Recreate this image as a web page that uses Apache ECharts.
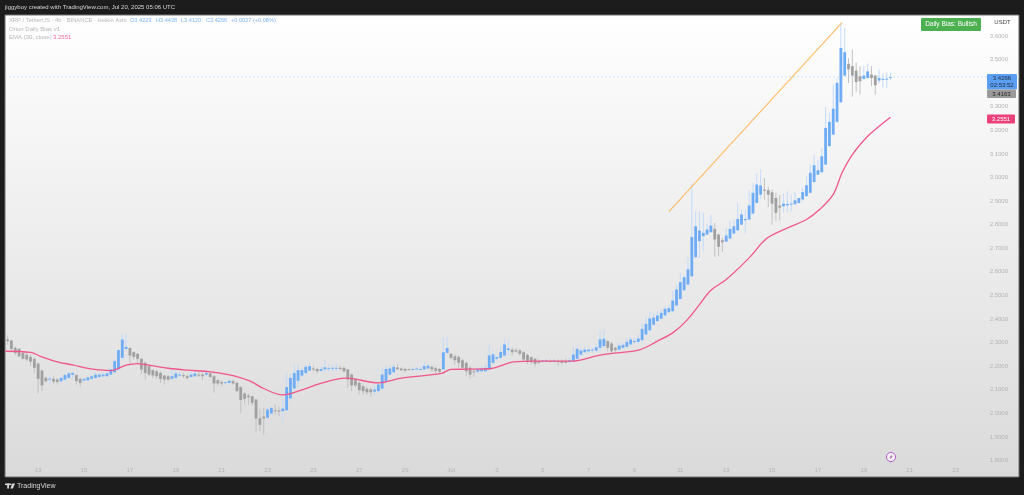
<!DOCTYPE html>
<html>
<head>
<meta charset="utf-8">
<title>XRP / TetherUS 4h</title>
<style>
html,body{margin:0;padding:0;background:#1c1c1c;}
#main{width:1024px;height:495px;}
</style>
<script src="https://cdn.jsdelivr.net/npm/echarts@6/dist/echarts.min.js"></script>
</head>
<body>
<div id="main"></div>
<script>
// heikin ashi bars, one entry per 4h bar
var opens = [
2.313,2.309,2.277,2.273,2.256,2.249,2.239,2.231,2.211,2.181,
2.150,2.143,2.146,2.143,2.136,2.143,2.150,2.163,2.162,2.146,
2.139,2.140,2.146,2.150,2.154,2.157,2.157,2.164,2.174,2.186,
2.235,2.273,2.277,2.259,2.252,2.231,2.214,2.200,2.183,2.178,
2.171,2.160,2.157,2.146,2.150,2.160,2.162,2.157,2.154,2.157,
2.164,2.164,2.164,2.169,2.157,2.140,2.133,2.128,2.129,2.136,
2.129,2.111,2.084,2.075,2.072,2.058,1.979,1.986,1.981,1.999,
2.013,2.012,2.009,2.013,2.063,2.105,2.138,2.160,2.171,2.181,
2.190,2.188,2.180,2.186,2.188,2.190,2.190,2.193,2.193,2.186,
2.164,2.143,2.129,2.115,2.104,2.101,2.092,2.094,2.105,2.136,
2.164,2.174,2.194,2.190,2.188,2.187,2.186,2.186,2.186,2.186,
2.190,2.197,2.191,2.188,2.186,2.256,2.252,2.242,2.239,2.225,
2.214,2.193,2.178,2.176,2.178,2.178,2.186,2.214,2.231,2.235,
2.245,2.268,2.270,2.268,2.266,2.259,2.248,2.238,2.231,2.222,
2.219,2.221,2.222,2.221,2.222,2.221,2.222,2.217,2.221,2.231,
2.249,2.259,2.263,2.266,2.266,2.278,2.285,2.306,2.296,2.278,
2.270,2.278,2.282,2.292,2.302,2.303,2.310,2.334,2.352,2.376,
2.391,2.401,2.415,2.429,2.433,2.457,2.485,2.522,2.546,2.581,
2.662,2.730,2.751,2.758,2.768,2.782,2.758,2.734,2.728,2.741,
2.762,2.776,2.800,2.819,2.822,2.847,2.892,2.927,2.949,2.946,
2.937,2.913,2.881,2.878,2.882,2.885,2.887,2.892,2.907,2.921,
2.935,2.981,3.012,3.022,3.055,3.133,3.182,3.236,3.319,3.432,
3.482,3.472,3.453,3.429,3.418,3.422,3.436,3.432,3.411,3.415,
3.417,3.4223
];
var closes = [
2.306,2.273,2.256,2.242,2.231,2.228,2.219,2.193,2.146,2.118,
2.136,2.147,2.135,2.133,2.150,2.162,2.169,2.171,2.136,2.129,
2.146,2.152,2.157,2.164,2.164,2.164,2.169,2.186,2.221,2.268,
2.313,2.282,2.245,2.239,2.231,2.186,2.171,2.164,2.160,2.157,
2.146,2.143,2.143,2.157,2.169,2.164,2.157,2.149,2.164,2.169,
2.160,2.157,2.171,2.154,2.126,2.126,2.126,2.132,2.138,2.126,
2.094,2.056,2.061,2.068,2.044,1.978,1.951,1.978,2.016,2.023,
2.009,2.007,2.020,2.111,2.150,2.171,2.183,2.183,2.197,2.200,
2.186,2.178,2.188,2.195,2.191,2.193,2.193,2.188,2.178,2.143,
2.118,2.118,2.098,2.094,2.089,2.089,2.101,2.122,2.164,2.188,
2.190,2.197,2.187,2.183,2.181,2.183,2.188,2.190,2.188,2.200,
2.202,2.186,2.180,2.176,2.259,2.277,2.235,2.225,2.214,2.193,
2.178,2.164,2.174,2.188,2.190,2.193,2.245,2.250,2.238,2.260,
2.292,2.275,2.259,2.262,2.252,2.228,2.221,2.217,2.210,2.214,
2.224,2.225,2.219,2.224,2.217,2.214,2.214,2.225,2.249,2.273,
2.266,2.270,2.270,2.270,2.280,2.313,2.316,2.278,2.263,2.268,
2.287,2.290,2.303,2.313,2.307,2.317,2.358,2.379,2.402,2.406,
2.415,2.426,2.443,2.446,2.478,2.525,2.556,2.577,2.610,2.748,
2.793,2.775,2.765,2.779,2.796,2.737,2.706,2.725,2.754,2.782,
2.793,2.824,2.843,2.824,2.881,2.935,2.970,2.966,2.944,2.927,
2.889,2.850,2.872,2.889,2.888,2.889,2.903,2.913,2.938,2.967,
3.020,3.052,3.031,3.090,3.210,3.236,3.292,3.401,3.549,3.531,
3.458,3.432,3.405,3.408,3.432,3.450,3.422,3.391,3.422,3.418,
3.419,3.4266
];
var lows = [
2.292,2.263,2.245,2.235,2.228,2.221,2.202,2.171,2.084,2.094,
2.129,2.126,2.122,2.122,2.129,2.136,2.146,2.146,2.122,2.111,
2.135,2.137,2.143,2.146,2.150,2.154,2.154,2.160,2.171,2.183,
2.228,2.270,2.207,2.228,2.207,2.164,2.143,2.157,2.150,2.146,
2.129,2.122,2.136,2.143,2.146,2.154,2.150,2.143,2.150,2.154,
2.154,2.140,2.157,2.150,2.087,2.115,2.115,2.121,2.125,2.122,
2.089,2.002,2.037,2.037,2.033,1.924,1.924,1.910,1.978,1.995,
1.995,1.988,1.962,2.009,2.058,2.101,2.108,2.154,2.164,2.178,
2.174,2.169,2.174,2.174,2.174,2.178,2.178,2.183,2.171,2.108,
2.094,2.108,2.080,2.080,2.080,2.070,2.072,2.089,2.101,2.132,
2.160,2.171,2.183,2.178,2.174,2.180,2.181,2.181,2.181,2.183,
2.186,2.174,2.169,2.169,2.183,2.253,2.228,2.207,2.193,2.186,
2.157,2.146,2.154,2.171,2.174,2.174,2.183,2.210,2.225,2.231,
2.242,2.245,2.245,2.256,2.242,2.221,2.207,2.207,2.197,2.207,
2.214,2.217,2.214,2.214,2.202,2.208,2.211,2.214,2.217,2.228,
2.245,2.256,2.256,2.256,2.260,2.263,2.278,2.263,2.253,2.253,
2.263,2.270,2.278,2.287,2.296,2.299,2.306,2.331,2.348,2.372,
2.386,2.398,2.412,2.423,2.429,2.454,2.482,2.518,2.542,2.578,
2.659,2.659,2.687,2.755,2.765,2.663,2.666,2.683,2.725,2.737,
2.758,2.772,2.797,2.762,2.819,2.844,2.889,2.909,2.906,2.875,
2.800,2.817,2.819,2.853,2.853,2.857,2.881,2.889,2.899,2.918,
2.932,2.977,3.010,3.020,3.052,3.130,3.179,3.231,3.316,3.429,
3.401,3.342,3.361,3.352,3.415,3.418,3.387,3.352,3.401,3.380,
3.380,3.4120
];
var highs = [
2.330,2.313,2.284,2.277,2.263,2.256,2.249,2.235,2.214,2.186,
2.157,2.160,2.157,2.150,2.157,2.169,2.178,2.178,2.164,2.150,
2.150,2.157,2.164,2.174,2.171,2.174,2.186,2.188,2.228,2.273,
2.334,2.337,2.280,2.263,2.256,2.235,2.221,2.207,2.188,2.186,
2.178,2.164,2.164,2.183,2.186,2.178,2.171,2.164,2.178,2.178,
2.178,2.174,2.174,2.174,2.164,2.146,2.139,2.133,2.143,2.143,
2.133,2.115,2.089,2.084,2.075,2.061,2.019,2.023,2.023,2.030,
2.037,2.027,2.061,2.171,2.164,2.211,2.207,2.193,2.207,2.214,
2.200,2.193,2.197,2.228,2.207,2.207,2.211,2.200,2.197,2.188,
2.169,2.150,2.136,2.122,2.112,2.108,2.122,2.129,2.193,2.200,
2.200,2.207,2.207,2.195,2.193,2.190,2.195,2.197,2.195,2.218,
2.211,2.202,2.197,2.193,2.324,2.324,2.256,2.249,2.245,2.231,
2.221,2.200,2.186,2.195,2.200,2.207,2.292,2.268,2.245,2.282,
2.313,2.313,2.279,2.277,2.273,2.263,2.253,2.242,2.235,2.228,
2.228,2.232,2.228,2.231,2.228,2.228,2.231,2.235,2.284,2.287,
2.277,2.284,2.277,2.277,2.296,2.351,2.355,2.310,2.302,2.282,
2.299,2.299,2.320,2.323,2.320,2.334,2.386,2.412,2.429,2.426,
2.433,2.440,2.454,2.461,2.518,2.546,2.596,2.588,2.663,2.974,
2.857,2.857,2.850,2.805,2.843,2.807,2.762,2.744,2.786,2.814,
2.822,2.895,2.864,2.864,2.946,2.977,3.017,3.034,2.998,2.960,
2.949,2.935,2.927,2.932,2.942,2.927,2.937,2.913,2.956,3.005,
3.055,3.097,3.076,3.125,3.299,3.274,3.394,3.422,3.655,3.634,
3.507,3.542,3.486,3.472,3.474,3.483,3.472,3.436,3.458,3.441,
3.446,3.4438
];
// EMA(30) read at [bar index, price]
var emaPoints = [
[-0.5,2.263],[6,2.258],[9,2.239],[13,2.218],[17,2.205],[21,2.190],[24,2.184],[27,2.181],
[28.2,2.185],[31,2.204],[34,2.211],[36.5,2.205],[42,2.191],[47,2.183],[53,2.176],[59,2.160],
[63.5,2.136],[67,2.105],[72,2.078],[77,2.099],[81.5,2.125],[88.5,2.149],[97,2.129],[103,2.149],
[113.5,2.169],[116,2.186],[120.5,2.187],[126.5,2.190],[132.5,2.218],[138,2.221],[147.5,2.221],
[155,2.247],[159.5,2.256],[165.5,2.270],[170,2.306],[174,2.341],[177.5,2.391],[181,2.461],
[184,2.522],[188,2.567],[194,2.659],[198.5,2.740],[203.5,2.782],[209,2.822],[212.5,2.865],
[216,2.928],[218.3,3.020],[221,3.097],[225,3.175],[228,3.217],[231,3.2551]
];
var trendX = [173,218.3];
var trendY = [2.855,3.657];
var lastPrice = 3.4266;
var priceTicks = [1.8,1.9,2.0,2.1,2.2,2.3,2.4,2.5,2.6,2.7,2.8,2.9,3.0,3.1,3.2,3.3,3.5,3.6];
var dateTicks = [8,20,32,44,56,68,80,92,104,116,128,140,152,164,176,188,200,212,224,236,248];
var dateLabels = ['13','15','17','19','21','23','25','27','29','Jul','3','5','7','9','11','13','15','17','19','21','23'];

var xMin = -0.68, xMax = 264.6;
var font = '"Liberation Sans", sans-serif';

var barData = [];
for (var i = 0; i < opens.length; i++) {
	barData.push([i, opens[i], closes[i], lows[i], highs[i]]);
}

function renderBar(params, api) {
	var idx = api.value(0), o = api.value(1), c = api.value(2);
	var up = c >= o;
	var hi = api.coord([idx, api.value(4)]);
	var lo = api.coord([idx, api.value(3)]);
	var t = api.coord([idx, Math.max(o, c)]);
	var b = api.coord([idx, Math.min(o, c)]);
	var h = Math.max(b[1] - t[1], 1);
	return {
		type: 'group',
		children: [{
			type: 'rect',
			shape: {x: hi[0] - 0.5, y: hi[1], width: 1, height: lo[1] - hi[1]},
			style: {fill: up ? '#c2dbfa' : '#c2c2c2'}
		}, {
			type: 'rect',
			shape: {x: t[0] - 1.4, y: t[1], width: 2.8, height: h},
			style: {fill: up ? '#6eacf6' : '#a0a0a0'}
		}]
	};
}

function label(x, y, text, color, size, align) {
	return {
		type: 'text', x: x, y: y, z: 20,
		style: {text: text, fill: color, font: (size || 6) + 'px ' + font, textAlign: align || 'left', textVerticalAlign: 'middle'}
	};
}
function box(x, y, w, h, color) {
	return {type: 'rect', z: 19, shape: {x: x, y: y, width: w, height: h, r: 1}, style: {fill: color}};
}

var chart = echarts.init(document.getElementById('main'));
var option = {
	animation: false,
	backgroundColor: '#1c1c1c',
	grid: {
		show: true, left: 5, right: 5, top: 15, bottom: 18,
		borderColor: '#6e6e6e', borderWidth: 1,
		backgroundColor: new echarts.graphic.LinearGradient(0, 0, 0, 1, [
			{offset: 0, color: '#ffffff'},
			{offset: 1, color: '#dadada'}
		])
	},
	xAxis: {
		type: 'value', min: xMin, max: xMax,
		axisLine: {show: false}, axisTick: {show: false}, splitLine: {show: false},
		axisLabel: {
			inside: true, margin: 3.5, color: '#b4b4b4', fontSize: 6, fontFamily: font,
			customValues: dateTicks,
			formatter: function (v) { return dateLabels[dateTicks.indexOf(v)]; }
		}
	},
	yAxis: {
		type: 'value', position: 'right', min: 1.7298, max: 3.689,
		axisLine: {show: false}, axisTick: {show: false}, splitLine: {show: false},
		axisLabel: {
			inside: true, margin: 11, color: '#b4b4b4', fontSize: 6, fontFamily: font,
			customValues: priceTicks,
			formatter: function (v) { return v.toFixed(4); }
		}
	},
	series: [{
		type: 'line', silent: true, symbol: 'none', z: 1,
		data: [[xMin, lastPrice], [xMax, lastPrice]],
		lineStyle: {color: '#c4dff9', width: 0.8, type: [2, 2]}
	}, {
		type: 'custom', z: 2, renderItem: renderBar,
		encode: {x: 0, y: [1, 2, 3, 4]},
		data: barData
	}, {
		type: 'line', silent: true, symbol: 'none', z: 3, smooth: 0.35,
		data: emaPoints,
		lineStyle: {color: '#f0568a', width: 1.3}
	}, {
		type: 'line', silent: true, symbol: 'none', z: 3,
		data: [[trendX[0], trendY[0]], [trendX[1], trendY[1]]],
		lineStyle: {color: '#ffbb66', width: 1.1}
	}],
	graphic: [
		label(5, 7.5, 'jiggyboy created with TradingView.com, Jul 20, 2025 05:06 UTC', '#d8d8d8'),
		label(9, 20.7, 'XRP / TetherUS · 4h · BINANCE · Heikin Ashi', '#b8b8b8', 5.8),
		label(130, 20.7, 'O3.4223', '#7fb4f6', 5.6),
		label(156, 20.7, 'H3.4438', '#7fb4f6', 5.6),
		label(181, 20.7, 'L3.4120', '#7fb4f6', 5.6),
		label(206, 20.7, 'C3.4266', '#7fb4f6', 5.6),
		label(231, 20.7, '+0.0027 (+0.08%)', '#7fb4f6', 5.6),
		label(9, 29.3, 'Orion Daily Bias v1', '#b8b8b8'),
		label(9, 37.7, 'EMA (30, close)', '#b8b8b8'),
		label(53, 37.7, '3.2551', '#f06a96'),

		box(921, 18, 60, 13, '#4caf50'),
		label(951, 24.7, 'Daily Bias: Bullish', '#ffffff', 6.5, 'center'),
		box(988, 16, 29, 13, '#ffffff'),
		label(1002.5, 22.7, 'USDT', '#444444', 6, 'center'),

		box(987, 74, 30, 15.5, '#5c9ff2'),
		label(1002, 78, '3.4266', '#1c2a3a', 6, 'center'),
		label(1002, 85, '02:53:52', '#1c2a3a', 6, 'center'),
		box(987, 89.5, 29, 8.5, '#9a9a9a'),
		label(1001.5, 93.9, '3.4163', '#1f1f1f', 6, 'center'),
		box(987, 114.5, 28, 9, '#ec407a'),
		label(1001, 119.2, '3.2551', '#ffffff', 6, 'center'),

		// lightning marker
		{type: 'circle', z: 19, shape: {cx: 891, cy: 457, r: 4.6}, style: {fill: '#f4eef6', stroke: '#b95ed0', lineWidth: 1}},
		{type: 'polygon', z: 20, shape: {points: [[892, 454.5], [889.6, 457.6], [890.9, 457.6], [890.2, 459.5], [892.6, 456.4], [891.3, 456.4]]}, style: {fill: '#8a5a96'}},

		// footer logo
		{type: 'rect', z: 19, shape: {x: 5, y: 483.5, width: 5, height: 1.6}, style: {fill: '#d8d8d8'}},
		{type: 'rect', z: 19, shape: {x: 7.2, y: 483.5, width: 1.8, height: 5}, style: {fill: '#d8d8d8'}},
		{type: 'circle', z: 19, shape: {cx: 10.8, cy: 484.3, r: 0.9}, style: {fill: '#d8d8d8'}},
		{type: 'polygon', z: 19, shape: {points: [[12.4, 483.5], [15, 483.5], [12.9, 488.5], [10.3, 488.5]]}, style: {fill: '#d8d8d8'}},
		label(17, 486.2, 'TradingView', '#d8d8d8', 7)
	]
};
chart.setOption(option);
</script>
</body>
</html>
